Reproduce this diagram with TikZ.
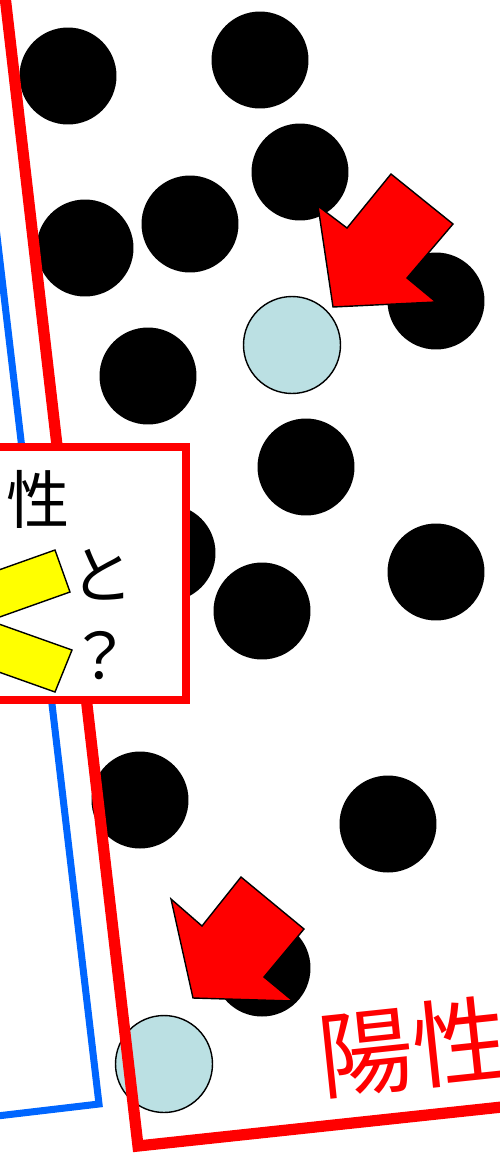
\documentclass[tikz,border=0pt]{standalone}
\usepackage{fontspec}
\usepackage{xcolor}
\usepackage{tikz}
\newfontfamily\jpfont{Noto Sans CJK JP}
\definecolor{scRed}{HTML}{FF0000}
\definecolor{scBlue}{HTML}{0066FF}
\definecolor{scPale}{HTML}{BBE0E3}
\definecolor{scYellow}{HTML}{FFFF00}
\tikzset{
  sc diagram/.style={x=0.02cm, y=-0.02cm, line join=miter},
  sc dot/.style={circle, fill=black, inner sep=0pt, minimum size=1.94cm},
  sc case/.style={sc dot, draw=black, fill=scPale, line width=0.8pt},
  sc frame/.style={draw=scRed, line width=6.4pt},
  sc bound/.style={draw=scBlue, line width=4pt},
  sc pointer/.style={fill=scRed, draw=black, line width=0.8pt},
  sc box/.style={draw=scRed, fill=white, line width=4.4pt, inner sep=0pt},
  sc text/.style={font=\jpfont\fontsize{36}{40}\selectfont, inner sep=0pt},
  sc cross/.style={fill=scYellow, draw=black, line width=0.8pt},
  sc tag/.style={font=\jpfont\fontsize{54}{60}\selectfont, text=scRed, inner sep=0pt}
}
\begin{document}
\begin{tikzpicture}[sc diagram]
\clip (0,0) rectangle (500,1153);
% dots
\node[sc dot] (d1) at (68,76) {};
\node[sc dot] (d2) at (260,60) {};
\node[sc dot] (d3) at (300,172) {};
\node[sc dot] (d4) at (85,248) {};
\node[sc dot] (d5) at (190,224) {};
\node[sc dot] (d6) at (436,301) {};
\node[sc dot] (d7) at (148,376) {};
\node[sc dot] (d8) at (306,467) {};
\node[sc dot] (d9) at (167,553) {};
\node[sc dot] (d10) at (436,572) {};
\node[sc dot] (d11) at (262,611) {};
\node[sc dot] (d12) at (140,800) {};
\node[sc dot] (d13) at (388,824) {};
\node[sc dot] (d14) at (262,968) {};
\node[sc case] (c1) at (292,345) {};
\node[sc case] (c2) at (164,1064) {};
% frames
\draw[sc bound] (-19,100) -- (99,1104) -- (-20,1118);
\draw[sc frame] (2,-30) -- (138,1146) -- (530,1104);
% pointers
\draw[sc pointer] (391,174) -- (453,224) -- (407,278) -- (436,302) -- (333,307) -- (318,206) -- (347,228) -- cycle;
\draw[sc pointer] (241,877) -- (304,929) -- (264,977) -- (293,1001) -- (193,998) -- (171,899) -- (202,926) -- cycle;
% question box
\node[sc box, minimum width=3.92cm, minimum height=5.06cm] (qbox) at (88,573.5) {};
\node[sc text] (q1) at (38,499) {性};
\node[sc text] (q2) at (102,575) {と};
\node[sc text] (q3) at (100,656) {？};
\draw[sc cross] (55,550) -- (70,592) -- (-20,624) -- (-35,582) -- cycle;
\draw[sc cross] (72,650) -- (55,692) -- (-35,660) -- (-18,618) -- cycle;
\node[sc tag, rotate=6] (tag) at (413,1047) {陽性};
\end{tikzpicture}
\end{document}
